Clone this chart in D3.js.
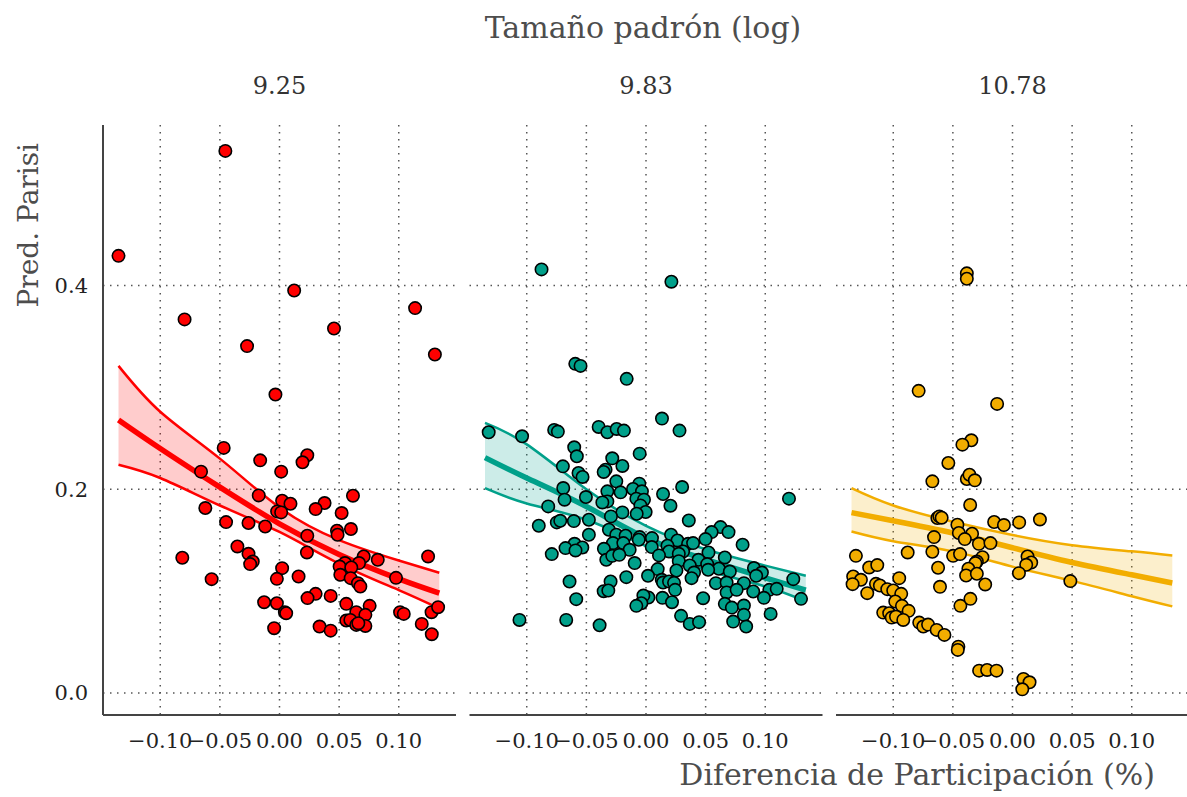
<!DOCTYPE html>
<html>
<head>
<meta charset="utf-8">
<title>Pred. Parisi por tamaño de padrón</title>
<script src="https://cdn.jsdelivr.net/npm/d3@7"></script>
<style>
  body { margin: 0; background: #fff; }
  svg text { font-family: "DejaVu Serif", "Liberation Serif", serif; }
</style>
</head>
<body>
<svg id="chart"></svg>
<script>
// panel labels (log padron size)
var panels = ["9.25", "9.83", "10.78"];
var colors = ["#FF0000", "#00A08A", "#F2AD00"];
var xTicks = [-0.10, -0.05, 0.00, 0.05, 0.10];
var yTicks = [0.0, 0.2, 0.4];

// points: [diff participacion, pred parisi]
var pts925 = [
  [-0.135,0.429],[-0.0454,0.532],[0.0123,0.395],[-0.0796,0.3666],[-0.0272,0.3404],[0.0457,0.3577],
  [0.1137,0.3777],[0.1303,0.3322],[-0.0034,0.2929],[-0.0468,0.2405],[-0.0162,0.2283],[0.0233,0.2333],
  [0.0193,0.2264],[-0.0658,0.2172],[0.0014,0.2172],[-0.0174,0.1939],[0.0616,0.1936],[0.0022,0.1887],
  [0.0092,0.1857],[0.0378,0.1864],[0.0303,0.1805],[-0.0622,0.1815],[-0.002,0.1782],[0.0014,0.1772],
  [0.0521,0.1766],[-0.0448,0.1677],[-0.026,0.1668],[-0.012,0.1634],[0.0599,0.1609],[0.0482,0.1592],
  [0.0487,0.1553],[0.0233,0.1543],[-0.0353,0.1438],[-0.026,0.1366],[-0.0224,0.129],[-0.0246,0.1265],
  [0.023,0.1379],[-0.0815,0.1327],[0.0706,0.134],[0.0824,0.1307],[0.1246,0.134],[0.0667,0.1275],
  [0.0549,0.1275],[0.0504,0.1241],[0.0602,0.1232],[0.051,0.116],[0.0597,0.1127],[0.0022,0.1225],
  [-0.0022,0.112],[0.016,0.1143],[-0.0569,0.1117],[0.0658,0.1078],[0.0678,0.1045],[0.0977,0.113],
  [0.0303,0.0973],[0.0235,0.0931],[0.0429,0.0953],[-0.0129,0.0891],[-0.0022,0.0881],[0.0045,0.0793],
  [0.0056,0.0783],[0.056,0.0875],[0.0756,0.0855],[0.0644,0.0793],[0.072,0.0767],[0.056,0.0711],
  [0.0594,0.0717],[0.0644,0.0668],[0.072,0.0658],[0.0661,0.0685],[0.0336,0.0652],[0.0429,0.0612],
  [-0.0045,0.0636],[0.1011,0.0793],[0.1042,0.0776],[0.1193,0.0678],[0.1275,0.0793],[0.133,0.0842],
  [0.1277,0.0577]
];

var pts983 = [
  [-0.0876,0.4157],[0.0213,0.4036],[-0.0593,0.323],[-0.0549,0.321],[-0.0162,0.3083],[0.0134,0.2693],
  [0.0281,0.2575],[-0.1319,0.2559],[-0.1039,0.2519],[-0.077,0.2582],[-0.0739,0.2565],[-0.0397,0.2611],
  [-0.0324,0.2559],[-0.0246,0.2591],[-0.0185,0.2575],[-0.0602,0.2411],[-0.058,0.2323],[-0.0053,0.2349],
  [-0.0283,0.2303],[-0.0697,0.2224],[-0.0198,0.2228],[-0.0339,0.2192],[-0.0355,0.2169],[-0.0566,0.2159],
  [-0.0532,0.212],[-0.0249,0.2077],[-0.0056,0.2054],[0.0303,0.2021],[-0.0694,0.2011],[-0.0109,0.2002],
  [-0.0034,0.1979],[-0.0324,0.1979],[-0.0213,0.1969],[0.0143,0.1953],[-0.0504,0.1923],[-0.0683,0.1897],
  [-0.0081,0.1907],[-0.0017,0.1897],[-0.0324,0.188],[-0.0366,0.187],[-0.0047,0.1841],[0.0205,0.1838],
  [-0.082,0.1831],[0.1199,0.1907],[-0.0198,0.1772],[-0.0003,0.1776],[-0.0078,0.1759],[-0.0294,0.1733],
  [-0.0479,0.17],[0.0359,0.1693],[-0.0748,0.1674],[-0.0719,0.169],[-0.0605,0.1687],[-0.0899,0.1641],
  [-0.0311,0.1602],[0.0625,0.1628],[0.055,0.1579],[0.0692,0.1579],[-0.0479,0.1553],[-0.0249,0.1553],
  [-0.0171,0.1543],[-0.0053,0.153],[0.005,0.152],[0.021,0.1553],[0.0499,0.151],[0.0264,0.1497],
  [-0.0277,0.1471],[-0.019,0.1471],[-0.0061,0.1504],[0.081,0.1455],[-0.0599,0.1464],[-0.0534,0.1428],
  [-0.0675,0.1422],[-0.0591,0.1399],[-0.0353,0.1415],[-0.0137,0.1405],[0.0048,0.1432],[0.018,0.1445],
  [0.0353,0.1464],[0.0395,0.1471],[0.0193,0.1389],[0.0311,0.1389],[0.0524,0.1379],[0.0275,0.1366],
  [0.0109,0.135],[-0.079,0.1363],[-0.0333,0.1307],[-0.0283,0.1346],[-0.0224,0.1356],[0.044,0.1307],
  [0.0661,0.133],[0.0275,0.1294],[-0.0095,0.1275],[0.0367,0.1251],[0.0513,0.1265],[0.0611,0.1219],
  [0.0521,0.1209],[0.0905,0.1226],[0.0972,0.1182],[0.0924,0.115],[0.0703,0.1192],[0.0098,0.1216],
  [0.0255,0.1202],[0.0403,0.1182],[0.0017,0.115],[-0.0165,0.1137],[0.0382,0.1127],[0.0132,0.1111],
  [0.0143,0.1084],[0.0193,0.1094],[0.0235,0.1081],[-0.0297,0.1094],[-0.0641,0.1094],[0.0586,0.1078],
  [0.0676,0.1084],[0.0821,0.1078],[0.1235,0.1117],[0.0244,0.1012],[-0.0355,0.0999],[-0.0316,0.1006],
  [0.0676,0.0986],[0.076,0.1012],[0.0899,0.0996],[0.1034,0.1012],[0.1096,0.1022],[0.0989,0.0934],
  [0.13,0.0924],[0.002,0.0937],[-0.0022,0.0956],[0.0138,0.0934],[0.0479,0.093],[-0.0585,0.0921],
  [-0.0039,0.0881],[-0.0081,0.0855],[0.0218,0.0891],[0.0661,0.0875],[0.072,0.0838],[0.0821,0.0858],
  [0.0821,0.0767],[0.1045,0.0776],[0.0294,0.0757],[0.0367,0.0678],[0.0445,0.0695],[0.0731,0.0701],
  [0.084,0.0652],[-0.1061,0.0717],[-0.0669,0.0717],[-0.0389,0.0665]
];

var pts1078 = [
  [-0.0383,0.4118],[-0.0383,0.4065],[-0.0787,0.2965],[-0.0129,0.2837],[-0.0345,0.248],[-0.042,0.2437],
  [-0.0538,0.2257],[-0.0672,0.2077],[-0.0383,0.21],[-0.0361,0.2142],[-0.0316,0.2087],[-0.0355,0.1845],
  [-0.063,0.1717],[-0.0613,0.1733],[-0.0594,0.172],[-0.0154,0.1678],[-0.0072,0.1648],[0.0056,0.1674],
  [0.023,0.1703],[-0.0462,0.1651],[-0.045,0.157],[-0.0339,0.1563],[-0.04,0.151],[-0.0658,0.153],
  [-0.0282,0.1464],[-0.0185,0.1471],[-0.0672,0.1386],[-0.0879,0.1379],[-0.0498,0.1346],[-0.044,0.1363],
  [-0.0252,0.1333],[-0.0299,0.129],[-0.0311,0.1275],[-0.1313,0.1346],[0.0126,0.134],[0.0157,0.1281],
  [0.0115,0.1258],[0.0054,0.1176],[-0.0624,0.1229],[-0.037,0.1219],[-0.0389,0.1153],[-0.0299,0.117],
  [-0.0229,0.1065],[0.0485,0.1098],[-0.1202,0.1232],[-0.1134,0.1255],[-0.1336,0.1143],[-0.1271,0.1111],
  [-0.1341,0.1068],[-0.095,0.1127],[-0.1145,0.1071],[-0.1112,0.1055],[-0.105,0.1019],[-0.1,0.1006],
  [-0.0933,0.0973],[-0.1218,0.098],[-0.0608,0.1042],[-0.0983,0.0898],[-0.0927,0.0855],[-0.0871,0.0806],
  [-0.1084,0.0789],[-0.1034,0.0783],[-0.1013,0.074],[-0.0977,0.075],[-0.0916,0.0717],[-0.0437,0.0855],
  [-0.0353,0.0924],[-0.0782,0.0691],[-0.0748,0.0652],[-0.0708,0.0671],[-0.0636,0.0619],[-0.0571,0.057],
  [-0.0454,0.0455],[-0.0459,0.0423],[-0.028,0.0219],[-0.0213,0.0226],[-0.0134,0.0219],[0.0092,0.0138],
  [0.0143,0.0105],[0.0082,0.0036]
];

// fitted curve and interval, read at these x values
var fitX = [-0.135, -0.10, -0.05, 0.00, 0.05, 0.10, 0.134];
var fit925 = [0.268, 0.240, 0.202, 0.166, 0.136, 0.112, 0.098];
var lo925  = [0.224, 0.211, 0.184, 0.158, 0.127, 0.101, 0.083];
var hi925  = [0.321, 0.276, 0.230, 0.182, 0.150, 0.130, 0.118];
var fit983 = [0.231, 0.211, 0.183, 0.152, 0.131, 0.113, 0.101];
var lo983  = [0.201, 0.186, 0.170, 0.144, 0.121, 0.1045, 0.090];
var hi983  = [0.265, 0.244, 0.200, 0.164, 0.141, 0.125, 0.115];
var fit1078 = [0.177, 0.169, 0.157, 0.1425, 0.128, 0.116, 0.108];
var lo1078  = [0.1585, 0.149, 0.139, 0.124, 0.110, 0.095, 0.085];
var hi1078  = [0.201, 0.184, 0.168, 0.155, 0.145, 0.139, 0.135];

var allPts = [pts925, pts983, pts1078];
var allFit = [fit925, fit983, fit1078];
var allLo = [lo925, lo983, lo1078];
var allHi = [hi925, hi983, hi1078];

var width = 1187, height = 797;
var plotTop = 125, plotBottom = 715, left0 = 103, panelW = 353, gap = 13.5;

var svg = d3.select("#chart").attr("width", width).attr("height", height);

var scaleY = d3.scaleLinear().domain([-0.0216, 0.5574]).range([plotBottom, plotTop]);

// titles
svg.append("text")
  .attr("x", 643).attr("y", 38)
  .attr("text-anchor", "middle")
  .style("font-size", "30px").style("fill", "#4d4d4d")
  .text("Tamaño padrón (log)");

svg.append("text")
  .attr("transform", "translate(38,143)rotate(-90)")
  .attr("text-anchor", "end")
  .style("font-size", "28px").style("fill", "#4d4d4d")
  .text("Pred. Parisi");

svg.append("text")
  .attr("x", 1155).attr("y", 785)
  .attr("text-anchor", "end")
  .style("font-size", "30px").style("fill", "#4d4d4d")
  .text("Diferencia de Participación (%)");

// y tick labels
svg.selectAll(".ylab").data(yTicks).enter().append("text")
  .attr("x", 88).attr("y", function(d) { return scaleY(d); })
  .attr("dy", "0.35em")
  .attr("text-anchor", "end")
  .style("font-size", "21px").style("fill", "#222")
  .text(function(d) { return d.toFixed(1); });

panels.forEach(function(lab, i) {
  var x0 = left0 + i * (panelW + gap);
  var scaleX = d3.scaleLinear().domain([-0.148, 0.148]).range([x0, x0 + panelW]);
  var g = svg.append("g");

  // strip label
  svg.append("text")
    .attr("x", x0 + panelW / 2).attr("y", 94)
    .attr("text-anchor", "middle")
    .style("font-size", "24px").style("fill", "#333")
    .text(lab);

  // dotted grid
  g.selectAll(".gx").data(xTicks).enter().append("line")
    .attr("x1", function(d) { return scaleX(d); }).attr("x2", function(d) { return scaleX(d); })
    .attr("y1", plotTop).attr("y2", plotBottom)
    .attr("stroke", "#555").attr("stroke-width", 1.5).attr("stroke-dasharray", "1.5,5.5");
  g.selectAll(".gy").data(yTicks).enter().append("line")
    .attr("x1", x0).attr("x2", x0 + panelW)
    .attr("y1", function(d) { return scaleY(d); }).attr("y2", function(d) { return scaleY(d); })
    .attr("stroke", "#555").attr("stroke-width", 1.5).attr("stroke-dasharray", "1.5,5.5");

  // x tick labels
  g.selectAll(".xlab").data(xTicks).enter().append("text")
    .attr("x", function(d) { return scaleX(d); }).attr("y", 748)
    .attr("text-anchor", "middle")
    .style("font-size", "21px").style("fill", "#222")
    .text(function(d) { return d3.format(".2f")(d).replace("-", "\u2212"); });

  // ribbon and lines
  var col = colors[i];
  var fit = allFit[i], lo = allLo[i], hi = allHi[i];
  var band = fitX.map(function(x, k) { return {x: x, lo: lo[k], hi: hi[k], fit: fit[k]}; });

  g.append("path").datum(band)
    .attr("fill", col).attr("fill-opacity", 0.2)
    .attr("d", d3.area().curve(d3.curveNatural)
      .x(function(d) { return scaleX(d.x); })
      .y0(function(d) { return scaleY(d.lo); })
      .y1(function(d) { return scaleY(d.hi); }));

  ["lo", "hi"].forEach(function(k) {
    g.append("path").datum(band)
      .attr("fill", "none").attr("stroke", col).attr("stroke-width", 2.5)
      .attr("d", d3.line().curve(d3.curveNatural)
        .x(function(d) { return scaleX(d.x); })
        .y(function(d) { return scaleY(d[k]); }));
  });
  g.append("path").datum(band)
    .attr("fill", "none").attr("stroke", col).attr("stroke-width", 5.5)
    .attr("d", d3.line().curve(d3.curveNatural)
      .x(function(d) { return scaleX(d.x); })
      .y(function(d) { return scaleY(d.fit); }));

  // points
  g.selectAll("circle").data(allPts[i]).enter().append("circle")
    .attr("cx", function(d) { return scaleX(d[0]); })
    .attr("cy", function(d) { return scaleY(d[1]); })
    .attr("r", 6.2)
    .attr("fill", col).attr("stroke", "#000").attr("stroke-width", 1.6);

  // x axis line
  g.append("line")
    .attr("x1", x0).attr("x2", x0 + panelW)
    .attr("y1", plotBottom).attr("y2", plotBottom)
    .attr("stroke", "#444").attr("stroke-width", 2);
});

// y axis line (first panel only)
svg.append("line")
  .attr("x1", left0).attr("x2", left0)
  .attr("y1", plotTop).attr("y2", plotBottom)
  .attr("stroke", "#444").attr("stroke-width", 2);
</script>
</body>
</html>
